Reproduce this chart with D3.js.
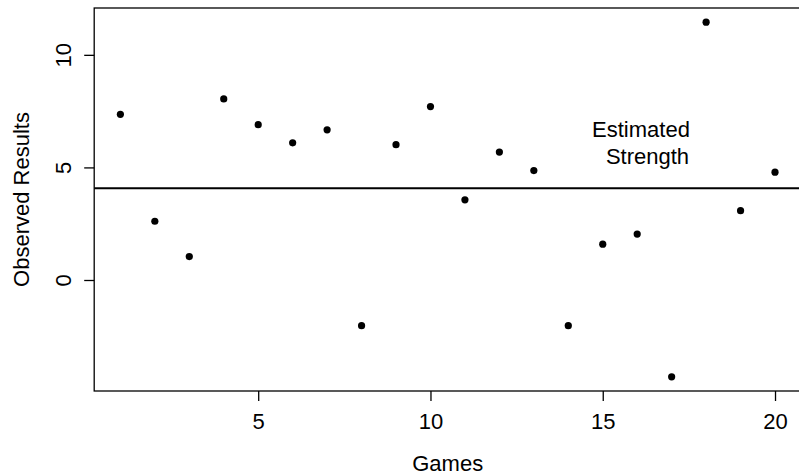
<!doctype HTML>
<html>
<head>
    <style>
        body { margin: 0; background: white; }
        text { font-family: "Liberation Sans", Arial, sans-serif; fill: black; }
    </style>
    <script src="https://d3js.org/d3.v7.min.js"></script>
</head>
<body>
<script>
    // observed results for each game
    var games = [1, 2, 3, 4, 5, 6, 7, 8, 9, 10, 11, 12, 13, 14, 15, 16, 17, 18, 19, 20];
    var results = [7.36, 2.61, 1.04, 8.04, 6.90, 6.09, 6.67, -2.03, 6.01, 7.70,
                   3.56, 5.68, 4.86, -2.03, 1.59, 2.04, -4.30, 11.45, 3.08, 4.79];
    var strength = 4.08;
    var xTicks = [5, 10, 15, 20];
    var yTicks = [0, 5, 10];

    var canvasWidth = 799;
    var canvasHeight = 475;
    var fontSize = 22;

    var svg = d3.select("body").append("svg")
        .attr("width", canvasWidth)
        .attr("height", canvasHeight)

    // R style ranges, 4% padding around the data
    var xScale = d3.scaleLinear().domain([0.24, 20.76]).range([94.2, 801.2]);
    var yScale = d3.scaleLinear().domain([-4.93, 12.08]).range([391, 8]);

    var plotLeft = xScale.range()[0], plotRight = xScale.range()[1];
    var plotTop = yScale.range()[1], plotBottom = yScale.range()[0];

    // box around the plot
    svg.append("rect")
        .attr("x", plotLeft)
        .attr("y", plotTop)
        .attr("width", plotRight - plotLeft)
        .attr("height", plotBottom - plotTop)
        .attr("fill", "none")
        .attr("stroke", "black")
        .attr("stroke-width", 1.3)

    // X-axis
    var xAxis = svg.append("g")
        .attr("transform", "translate(0, " + plotBottom + ")")
        .call(d3.axisBottom(xScale).tickValues(xTicks).tickSize(10).tickPadding(12.5))
    xAxis.select(".domain").remove();
    xAxis.selectAll("line").attr("stroke", "black").attr("stroke-width", 1.3);
    xAxis.selectAll("text").attr("font-size", fontSize + "px").attr("font-family", null);

    // Y-axis, labels rotated like R
    var yAxis = svg.append("g")
        .attr("transform", "translate(" + plotLeft + ", 0)")
        .call(d3.axisLeft(yScale).tickValues(yTicks).tickSize(10))
    yAxis.select(".domain").remove();
    yAxis.selectAll("line").attr("stroke", "black").attr("stroke-width", 1.3);
    yAxis.selectAll("text")
        .attr("font-size", fontSize + "px")
        .attr("font-family", null)
        .attr("transform", "rotate(-90)")
        .attr("x", 0)
        .attr("y", -23)
        .attr("dy", 0)
        .attr("text-anchor", "middle")

    // estimated strength line
    svg.append("line")
        .attr("x1", plotLeft)
        .attr("x2", plotRight)
        .attr("y1", yScale(strength))
        .attr("y2", yScale(strength))
        .attr("stroke", "black")
        .attr("stroke-width", 2)

    // points
    svg.selectAll(".dot")
        .data(games)
        .enter().append("circle")
        .attr("class", "dot")
        .attr("cx", function(d) { return xScale(d); })
        .attr("cy", function(d, i) { return yScale(results[i]); })
        .attr("r", 3.6)
        .attr("fill", "black")

    // annotation
    svg.append("text")
        .attr("x", xScale(16.11))
        .attr("y", 137)
        .attr("text-anchor", "middle")
        .attr("font-size", fontSize + "px")
        .text("Estimated")

    svg.append("text")
        .attr("x", xScale(16.3))
        .attr("y", 164)
        .attr("text-anchor", "middle")
        .attr("font-size", fontSize + "px")
        .text("Strength")

    // axis titles
    svg.append("text")
        .attr("x", (plotLeft + plotRight) / 2)
        .attr("y", 471)
        .attr("text-anchor", "middle")
        .attr("font-size", fontSize + "px")
        .text("Games")

    svg.append("text")
        .attr("transform", "translate(28.5, " + (plotTop + plotBottom) / 2 + ") rotate(-90)")
        .attr("text-anchor", "middle")
        .attr("font-size", fontSize + "px")
        .text("Observed Results")
</script>
</body>
</html>
